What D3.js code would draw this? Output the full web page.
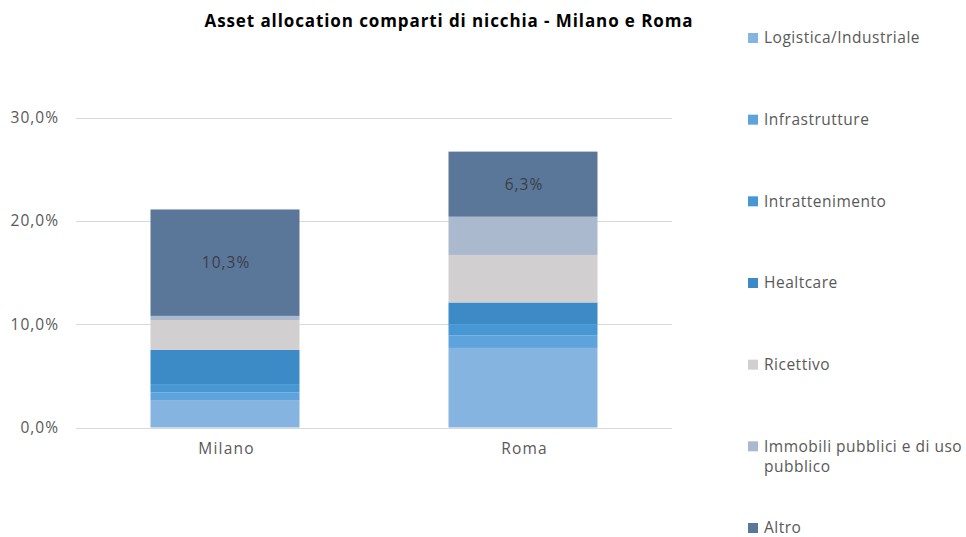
<!DOCTYPE html>
<html>
<head>
<meta charset="utf-8">
<script src="https://cdn.jsdelivr.net/npm/d3@7"></script>
<style>
  body { margin: 0; background: #fff; }
  svg { display: block; font-family: "Open Sans", "Liberation Sans", sans-serif; }
</style>
</head>
<body>
<svg id="chart" width="966" height="537"></svg>
<script>
// Cities on the x axis
const cities = ["Milano", "Roma"];

// Segments, bottom to top
const sectors = [
  "Logistica/Industriale",
  "Infrastrutture",
  "Intrattenimento",
  "Healtcare",
  "Ricettivo",
  "Immobili pubblici e di uso pubblico",
  "Altro"
];

// Share of each sector (%), one value per city
const milanoValues = [2.6, 0.8, 0.8, 3.3, 2.9, 0.4, 10.3];
const romaValues   = [7.7, 1.2, 1.1, 2.1, 4.6, 3.7, 6.3];

const sectorColors = ["#86b4e1", "#5fa3dd", "#4697d3", "#3d8bc6", "#d1cfd0", "#aab9cd", "#5a7699"];

// Only this sector carries a value label
const labelledSector = "Altro";

const yTicks = [0, 10, 20, 30];

const rows = cities.map((c, i) => {
  const vals = i === 0 ? milanoValues : romaValues;
  const r = { city: c };
  sectors.forEach((s, j) => { r[s] = vals[j]; });
  return r;
});

const svg = d3.select("#chart");
const fmt = v => d3.format(".1f")(v).replace(".", ",") + "%";

const xc = d3.scalePoint().domain(cities).range([76, 672]).padding(0.5);
const barW = 149;
const y = d3.scaleLinear().domain([0, 30]).range([427.5, 117.5]);

// gridlines
svg.append("g")
  .selectAll("line")
  .data(yTicks)
  .join("line")
  .attr("x1", 76).attr("x2", 672)
  .attr("y1", d => Math.round(y(d)) + 0.5)
  .attr("y2", d => Math.round(y(d)) + 0.5)
  .attr("stroke", "#d9d9d9")
  .attr("stroke-width", 1);

// y axis labels
const yAxis = d3.axisLeft(y).tickValues(yTicks).tickFormat(fmt).tickSize(0).tickPadding(0);
const ya = svg.append("g").attr("transform", "translate(59,0)").call(yAxis);
ya.select(".domain").remove();
ya.selectAll("text")
  .attr("fill", "#595959")
  .style("font-size", "15.5px")
  .style("letter-spacing", "1px")
  .style("font-family", "'Open Sans', sans-serif");

// stacked bars
const stack = d3.stack().keys(sectors);
const series = stack(rows);

const g = svg.append("g");
series.forEach((s, j) => {
  g.selectAll(null)
    .data(s)
    .join("rect")
    .attr("x", d => xc(d.data.city) - barW / 2)
    .attr("width", barW)
    .attr("y", d => y(d[1]))
    .attr("height", d => y(d[0]) - y(d[1]))
    .attr("fill", sectorColors[j]);
});

// value labels on the top segment
const topSeries = series[sectors.indexOf(labelledSector)];
svg.append("g")
  .selectAll("text")
  .data(topSeries)
  .join("text")
  .attr("x", d => xc(d.data.city) + 1)
  .attr("y", d => (y(d[0]) + y(d[1])) / 2)
  .attr("dy", "0.35em")
  .attr("text-anchor", "middle")
  .attr("fill", "#3a3f47")
  .style("font-size", "15.5px")
  .style("letter-spacing", "1px")
  .text(d => fmt(d[1] - d[0]));

// x axis labels
const xAxis = d3.axisBottom(xc).tickSize(0).tickPadding(0);
const xa = svg.append("g").attr("transform", "translate(1,443)").call(xAxis);
xa.select(".domain").remove();
xa.selectAll("text")
  .attr("fill", "#595959")
  .style("font-size", "15.5px")
  .style("letter-spacing", "1.2px")
  .style("font-family", "'Open Sans', sans-serif");

// title
svg.append("text")
  .attr("x", 449)
  .attr("y", 27)
  .attr("text-anchor", "middle")
  .attr("fill", "#000")
  .style("font-size", "17px")
  .style("letter-spacing", "0.9px")
  .style("font-weight", "bold")
  .text("Asset allocation comparti di nicchia - Milano e Roma");

// legend
const legendY = d3.scalePoint().domain(sectors).range([38, 528]);
const leg = svg.append("g");
const items = leg.selectAll("g")
  .data(sectors)
  .join("g")
  .attr("transform", d => `translate(748,${legendY(d)})`);
items.append("rect")
  .attr("x", 0).attr("y", -5)
  .attr("width", 10).attr("height", 10)
  .attr("fill", (d, i) => sectorColors[i]);
items.append("text")
  .attr("x", 16)
  .attr("fill", "#595959")
  .style("font-size", "15.5px")
  .style("letter-spacing", "0.5px")
  .each(function (d) {
    const t = d3.select(this);
    const lines = d === "Immobili pubblici e di uso pubblico"
      ? ["Immobili pubblici e di uso", "pubblico"] : [d];
    lines.forEach((ln, k) => {
      t.append("tspan").attr("x", 16).attr("dy", k === 0 ? "0.35em" : "20px").text(ln);
    });
  });
</script>
</body>
</html>
